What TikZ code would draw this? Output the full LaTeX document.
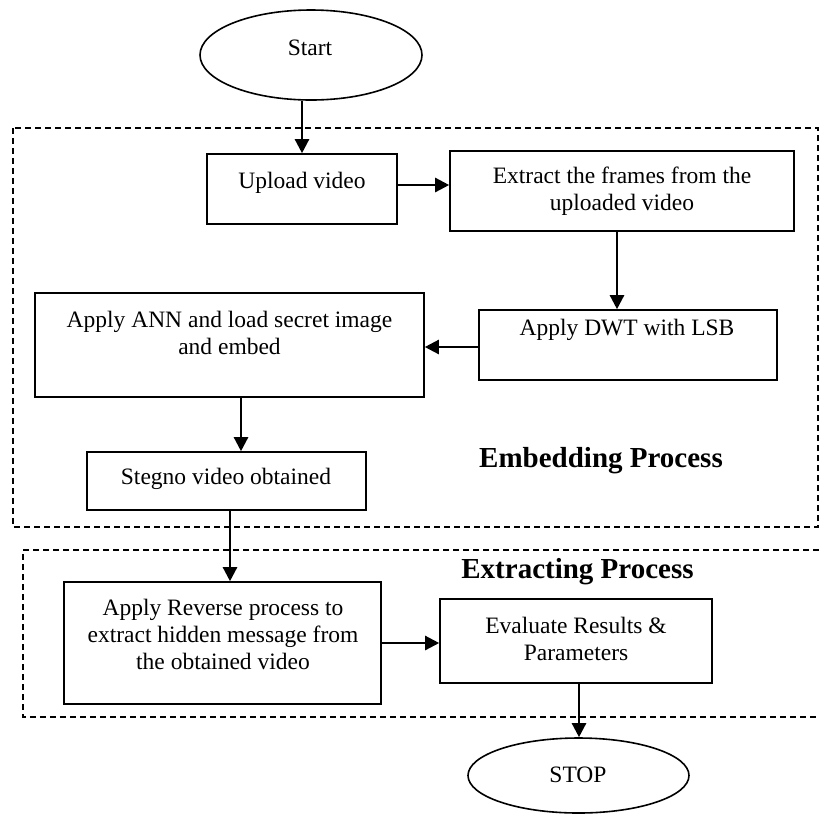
\documentclass[tikz,border=0pt]{standalone}
\usepackage{fontspec}
\setmainfont{Liberation Serif}
\usetikzlibrary{arrows.meta,shapes.geometric,calc}
\begin{document}
\begin{tikzpicture}[x=1pt,y=-1pt,
  box/.style={draw=black,line width=1.6pt,rectangle,inner sep=0pt},
  oval/.style={draw=black,line width=1.6pt,ellipse,inner sep=0pt},
  txt/.style={inner sep=0pt,align=center,font=\fontsize{23.5}{27}\selectfont},
  head/.style={inner sep=0pt,font=\fontsize{29}{33}\selectfont\bfseries},
  arr/.style={line width=2.4pt,-{Triangle[length=14pt,width=14pt]}},
  region/.style={line width=1.5pt,dash pattern=on 6pt off 4pt}]
\useasboundingbox[fill=white] (0,0) rectangle (819,815);

% dashed regions
\draw[region] (13,128) rectangle (818,527);
\draw[region] (819,550) -- (23,550) -- (23,717) -- (819,717);

% shapes
\node[oval,minimum width=222pt,minimum height=90pt] (start) at (311,55) {};
\node[txt] (starttxt) at (310,47.5) {Start};

\node[box,minimum width=190pt,minimum height=70pt] (upload) at (302,189) {};
\node[txt] (uploadtxt) at (302,182.5) {Upload video};

\node[box,minimum width=344pt,minimum height=80pt] (extract) at (622,191) {};
\node[txt] (extracttxt) at (622,191.5) {Extract the frames from the\\uploaded video};

\node[box,minimum width=298pt,minimum height=70pt] (dwt) at (628,345) {};
\node[txt] (dwttxt) at (627,330) {Apply DWT with LSB};

\node[box,minimum width=389pt,minimum height=104pt] (ann) at (229.5,345) {};
\node[txt] (anntxt) at (229.5,332.5) {Apply ANN and load secret image\\and embed};

\node[box,minimum width=279pt,minimum height=58pt] (stegno) at (226.5,481) {};
\node[txt] (stegnotxt) at (226,479) {Stegno video obtained};

\node[head] (embed) at (601,461) {Embedding Process};
\node[head] (extracting) at (577.5,572) {Extracting Process};

\node[box,minimum width=317pt,minimum height=122pt] (reverse) at (222.5,643) {};
\node[txt] (reversetxt) at (223,634.5) {Apply Reverse process to\\extract hidden message from\\the obtained video};

\node[box,minimum width=272pt,minimum height=84pt] (evaluate) at (576,641) {};
\node[txt] (evaluatetxt) at (576,639) {Evaluate Results \&\\Parameters};

\node[oval,minimum width=221pt,minimum height=75pt] (stop) at (578.5,775.5) {};
\node[txt] (stoptxt) at (578,775) {STOP};

% connectors
\draw[arr] (start.south -| upload.north) -- (upload.north);
\draw[arr] ([yshift=4pt]upload.east) -- ([yshift=4pt]upload.east -| extract.west);
\draw[arr] ([xshift=-5pt]extract.south) -- ([xshift=-5pt]extract.south |- dwt.north);
\draw[arr] ([yshift=-2pt]dwt.west) -- ([yshift=-2pt]dwt.west -| ann.east);
\draw[arr] ([xshift=11.5pt]ann.south) -- ([xshift=11.5pt]ann.south |- stegno.north);
\draw[arr] ([xshift=3.5pt]stegno.south) -- ([xshift=3.5pt]stegno.south |- reverse.north);
\draw[arr] (reverse.east) -- (reverse.east -| evaluate.west);
\draw[arr] ([xshift=3pt]evaluate.south) -- ([xshift=3pt]evaluate.south |- stop.north);
\end{tikzpicture}
\end{document}
